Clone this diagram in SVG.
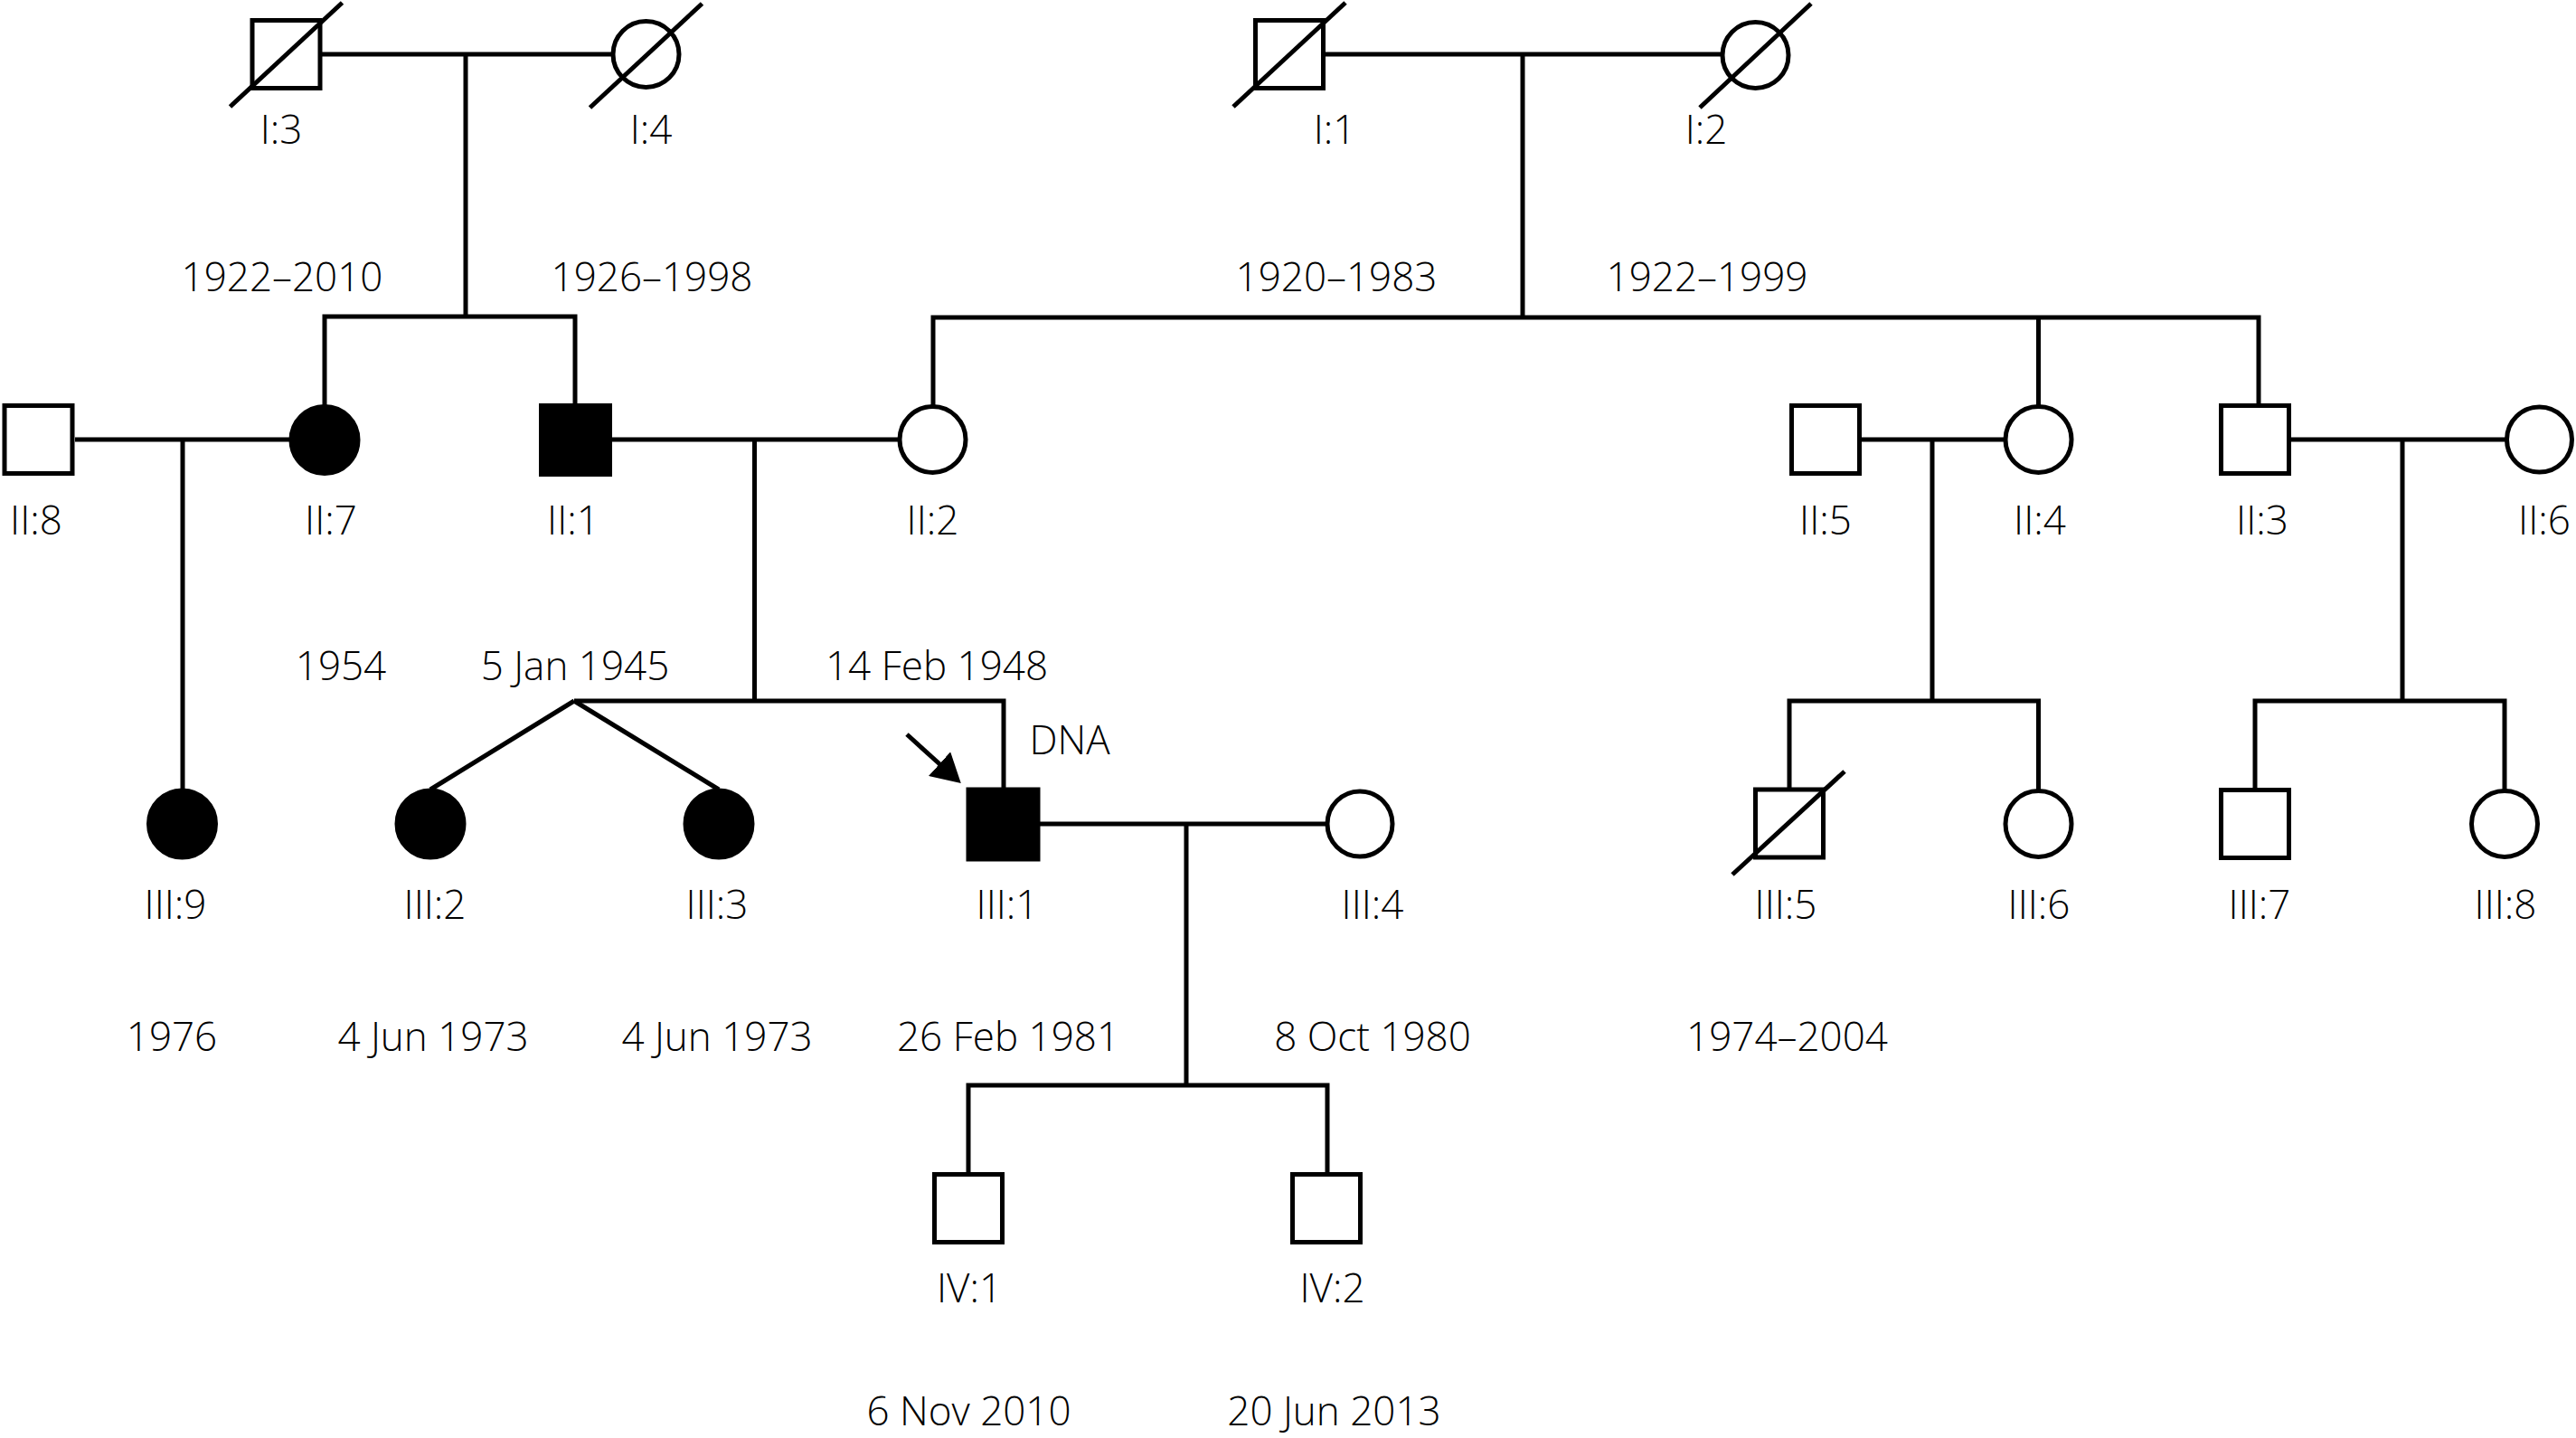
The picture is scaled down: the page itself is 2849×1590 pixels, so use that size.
<svg xmlns="http://www.w3.org/2000/svg" width="2849" height="1590" viewBox="0 0 2849 1590">
<style>
  .ln { stroke: #000; stroke-width: 5; fill: none; stroke-linecap: butt; }
  .sym { stroke: #000; stroke-width: 5; fill: #fff; }
  .aff { stroke: #000; stroke-width: 5; fill: #000; }
  .dec { stroke: #000; stroke-width: 5; fill: none; }
  text { font-family: "Open Sans", "Noto Sans", "DejaVu Sans", sans-serif; font-size: 44px; font-weight: 300; fill: #000; text-anchor: middle; }
</style>
<defs>
  <marker id="arrowhead" markerUnits="userSpaceOnUse" viewBox="0 0 32 36" refX="8" refY="18" markerWidth="32" markerHeight="36" orient="auto">
    <path d="M0,0 L32,18 L0,36 Z" fill="#000"/>
  </marker>
</defs>
<rect x="0" y="0" width="2849" height="1590" fill="#fff"/>

<g id="connectors">
  <!-- I:3 x I:4 -->
  <line class="ln" x1="356" y1="60" x2="676" y2="60"/>
  <line class="ln" x1="515" y1="60" x2="515" y2="350"/>
  <polyline class="ln" points="359,448 359,350 636,350 636,447"/>
  <!-- I:1 x I:2 -->
  <line class="ln" x1="1466" y1="60" x2="1904" y2="60"/>
  <line class="ln" x1="1684" y1="60" x2="1684" y2="351"/>
  <polyline class="ln" points="1032,448 1032,351 2498,351 2498,447"/>
  <line class="ln" x1="2254.5" y1="351" x2="2254.5" y2="448"/>
  <!-- II:8 x II:7 -->
  <line class="ln" x1="83" y1="486" x2="321" y2="486"/>
  <line class="ln" x1="202" y1="486" x2="202" y2="873"/>
  <!-- II:1 x II:2 -->
  <line class="ln" x1="676" y1="486" x2="994" y2="486"/>
  <line class="ln" x1="834.5" y1="486" x2="834.5" y2="775"/>
  <polyline class="ln" points="635,775 1110,775 1110,872"/>
  <line class="ln" x1="635" y1="775" x2="476" y2="873"/>
  <line class="ln" x1="635" y1="775" x2="795" y2="873"/>
  <!-- II:5 x II:4 -->
  <line class="ln" x1="2059" y1="486" x2="2217" y2="486"/>
  <line class="ln" x1="2137" y1="486" x2="2137" y2="775"/>
  <polyline class="ln" points="1979,872 1979,775 2254.5,775 2254.5,873"/>
  <!-- II:3 x II:6 -->
  <line class="ln" x1="2534" y1="486" x2="2771" y2="486"/>
  <line class="ln" x1="2657" y1="486" x2="2657" y2="775"/>
  <polyline class="ln" points="2494,872 2494,775 2770,775 2770,873"/>
  <!-- III:1 x III:4 -->
  <line class="ln" x1="1150" y1="911" x2="1466" y2="911"/>
  <line class="ln" x1="1312" y1="911" x2="1312" y2="1200"/>
  <polyline class="ln" points="1071,1297 1071,1200 1468,1200 1468,1297"/>
  <!-- proband arrow -->
  <line class="ln" x1="1003" y1="812" x2="1045" y2="850" marker-end="url(#arrowhead)"/>
</g>

<g id="I-3">
  <rect class="sym" x="279" y="22.5" width="75" height="75"/>
  <line class="dec" x1="254.5" y1="118" x2="378.5" y2="3"/>
  <text x="311" y="159">I:3</text>
  <text x="312" y="322">1922–2010</text>
</g>
<g id="I-4">
  <circle class="sym" cx="714.5" cy="60" r="36.5"/>
  <line class="dec" x1="652.5" y1="119" x2="776.5" y2="4"/>
  <text x="720" y="159">I:4</text>
  <text x="721" y="322">1926–1998</text>
</g>
<g id="I-1">
  <rect class="sym" x="1388.5" y="22.5" width="75" height="75"/>
  <line class="dec" x1="1364" y1="118" x2="1488" y2="3"/>
  <text x="1476" y="159">I:1</text>
  <text x="1478" y="322">1920–1983</text>
</g>
<g id="I-2">
  <circle class="sym" cx="1941.5" cy="61" r="36.5"/>
  <line class="dec" x1="1880" y1="119" x2="2003" y2="4"/>
  <text x="1887" y="159">I:2</text>
  <text x="1888" y="322">1922–1999</text>
</g>

<g id="II-8">
  <rect class="sym" x="5" y="448.5" width="75" height="75"/>
  <text x="40" y="591">II:8</text>
</g>
<g id="II-7">
  <circle class="aff" cx="359" cy="486.5" r="37"/>
  <text x="366" y="591">II:7</text>
  <text x="377" y="752">1954</text>
</g>
<g id="II-1">
  <rect class="aff" x="598.5" y="448.5" width="76" height="76"/>
  <text x="634" y="591">II:1</text>
  <text x="636" y="752">5 Jan 1945</text>
</g>
<g id="II-2">
  <circle class="sym" cx="1031.5" cy="486" r="36.5"/>
  <text x="1031.5" y="591">II:2</text>
  <text x="1036" y="752">14 Feb 1948</text>
</g>
<g id="II-5">
  <rect class="sym" x="1981.5" y="448.5" width="75" height="75"/>
  <text x="2019" y="591">II:5</text>
</g>
<g id="II-4">
  <circle class="sym" cx="2254.5" cy="486" r="36.5"/>
  <text x="2256" y="591">II:4</text>
</g>
<g id="II-3">
  <rect class="sym" x="2456.5" y="448.5" width="75" height="75"/>
  <text x="2502" y="591">II:3</text>
</g>
<g id="II-6">
  <circle class="sym" cx="2808.5" cy="486" r="36"/>
  <text x="2814" y="591">II:6</text>
</g>

<g id="III-9">
  <circle class="aff" cx="201.5" cy="911" r="37"/>
  <text x="194" y="1016">III:9</text>
  <text x="190" y="1162">1976</text>
</g>
<g id="III-2">
  <circle class="aff" cx="476" cy="911" r="37"/>
  <text x="481" y="1016">III:2</text>
  <text x="479" y="1162">4 Jun 1973</text>
</g>
<g id="III-3">
  <circle class="aff" cx="795" cy="911" r="37"/>
  <text x="793" y="1016">III:3</text>
  <text x="793" y="1162">4 Jun 1973</text>
</g>
<g id="III-1">
  <rect class="aff" x="1071" y="873" width="77" height="77"/>
  <text x="1114" y="1016">III:1</text>
  <text x="1183" y="834">DNA</text>
  <text x="1115" y="1162">26 Feb 1981</text>
</g>
<g id="III-4">
  <circle class="sym" cx="1504" cy="911" r="36"/>
  <text x="1518" y="1016">III:4</text>
  <text x="1518" y="1162">8 Oct 1980</text>
</g>
<g id="III-5">
  <rect class="sym" x="1941.5" y="873" width="75" height="75"/>
  <line class="dec" x1="1916" y1="967" x2="2040" y2="853"/>
  <text x="1975" y="1016">III:5</text>
  <text x="1976.5" y="1162">1974–2004</text>
</g>
<g id="III-6">
  <circle class="sym" cx="2254.5" cy="911" r="36.5"/>
  <text x="2255" y="1016">III:6</text>
</g>
<g id="III-7">
  <rect class="sym" x="2456.5" y="873.5" width="75" height="75"/>
  <text x="2499" y="1016">III:7</text>
</g>
<g id="III-8">
  <circle class="sym" cx="2770" cy="911" r="36.5"/>
  <text x="2771" y="1016">III:8</text>
</g>

<g id="IV-1">
  <rect class="sym" x="1033.5" y="1298.5" width="75" height="75"/>
  <text x="1072" y="1440">IV:1</text>
  <text x="1071.5" y="1576">6 Nov 2010</text>
</g>
<g id="IV-2">
  <rect class="sym" x="1429.5" y="1298.5" width="75" height="75"/>
  <text x="1473.5" y="1440">IV:2</text>
  <text x="1475.5" y="1576">20 Jun 2013</text>
</g>
</svg>
